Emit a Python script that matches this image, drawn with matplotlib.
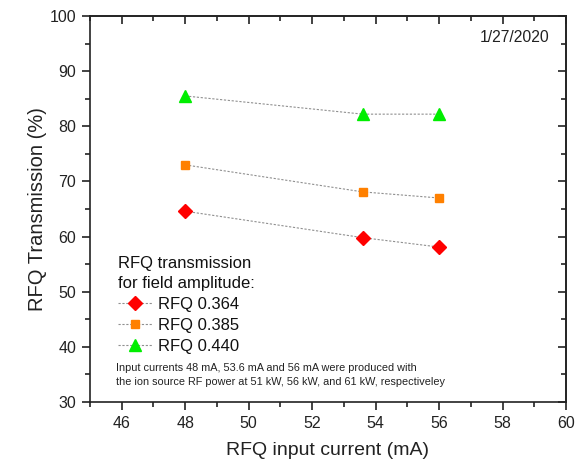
import numpy as np
import matplotlib.pyplot as plt
from matplotlib.ticker import MultipleLocator

plt.rcParams['font.family'] = ['Liberation Sans', 'DejaVu Sans']

# input currents (mA) and RFQ transmission (%) for each field amplitude
current = [48.0, 53.6, 56.0]
trans_364 = [64.6, 59.8, 58.1]
trans_385 = [73.0, 68.1, 67.0]
trans_440 = [85.5, 82.2, 82.2]
labels = ['RFQ 0.364', 'RFQ 0.385', 'RFQ 0.440']

fig = plt.figure(figsize=(5.78, 4.62), dpi=100)
ax = fig.add_axes([90/578, 1 - 402/462, 476/578, 386/462])

line_kw = dict(color='#909090', ls=(0, (2, 1.5)), lw=0.8)
ax.plot(current, trans_364, marker='D', ms=7.5, mfc='#ff0000', mec='#ff0000',
        label=labels[0], **line_kw)
ax.plot(current, trans_385, marker='s', ms=6, mfc='#ff8000', mec='#ff8000',
        label=labels[1], **line_kw)
ax.plot(current, trans_440, marker='^', ms=8.5, mfc='#00ee00', mec='#00ee00',
        label=labels[2], **line_kw)

ax.set_xlim(45, 60)
ax.set_ylim(30, 100)
ax.xaxis.set_major_locator(MultipleLocator(2))
ax.xaxis.set_minor_locator(MultipleLocator(1))
ax.yaxis.set_major_locator(MultipleLocator(10))
ax.yaxis.set_minor_locator(MultipleLocator(5))
ax.tick_params(which='both', direction='out', width=1.2, labelsize=11.5,
               colors='#222222', pad=4)
ax.tick_params(which='major', length=6)
ax.tick_params(which='minor', length=3.5)
for s in ax.spines.values():
    s.set_linewidth(1.2)
    s.set_color('#222222')

# mirrored ticks pointing inward on top and right
top = ax.secondary_xaxis('top')
top.xaxis.set_major_locator(MultipleLocator(2))
top.xaxis.set_minor_locator(MultipleLocator(1))
right = ax.secondary_yaxis('right')
right.yaxis.set_major_locator(MultipleLocator(10))
right.yaxis.set_minor_locator(MultipleLocator(5))
for sec in (top, right):
    sec.tick_params(which='both', direction='in', width=1.2, labeltop=False,
                    labelright=False, colors='#222222')
    sec.tick_params(which='major', length=6)
    sec.tick_params(which='minor', length=3.5)
    for s in sec.spines.values():
        s.set_linewidth(1.2)
        s.set_color('#222222')

ax.set_xlabel('RFQ input current (mA)', fontsize=14, color='#222222', labelpad=8)
ax.set_ylabel('RFQ Transmission (%)', fontsize=14.5, color='#222222', labelpad=2)

ax.text(0.965, 0.945, '1/27/2020', transform=ax.transAxes, ha='right',
        va='center', fontsize=11.3, color='#222222')

leg = ax.legend(loc='upper left', bbox_to_anchor=(0.058, 0.377), frameon=False,
                title='RFQ transmission\nfor field amplitude:', fontsize=12,
                title_fontsize=12, alignment='left', handlelength=2.1,
                handletextpad=0.3, labelspacing=0.36, borderpad=0, borderaxespad=0)
for t in leg.get_texts():
    t.set_color('#111111')
leg.get_title().set_color('#111111')
leg.get_title().set_linespacing(1.4)

ax.text(0.055, 0.07,
        'Input currents 48 mA, 53.6 mA and 56 mA were produced with\n'
        'the ion source RF power at 51 kW, 56 kW, and 61 kW, respectiveley',
        transform=ax.transAxes, ha='left', va='center', fontsize=7.8,
        color='#222222', linespacing=1.4)

fig.savefig('out.png', dpi=100)
